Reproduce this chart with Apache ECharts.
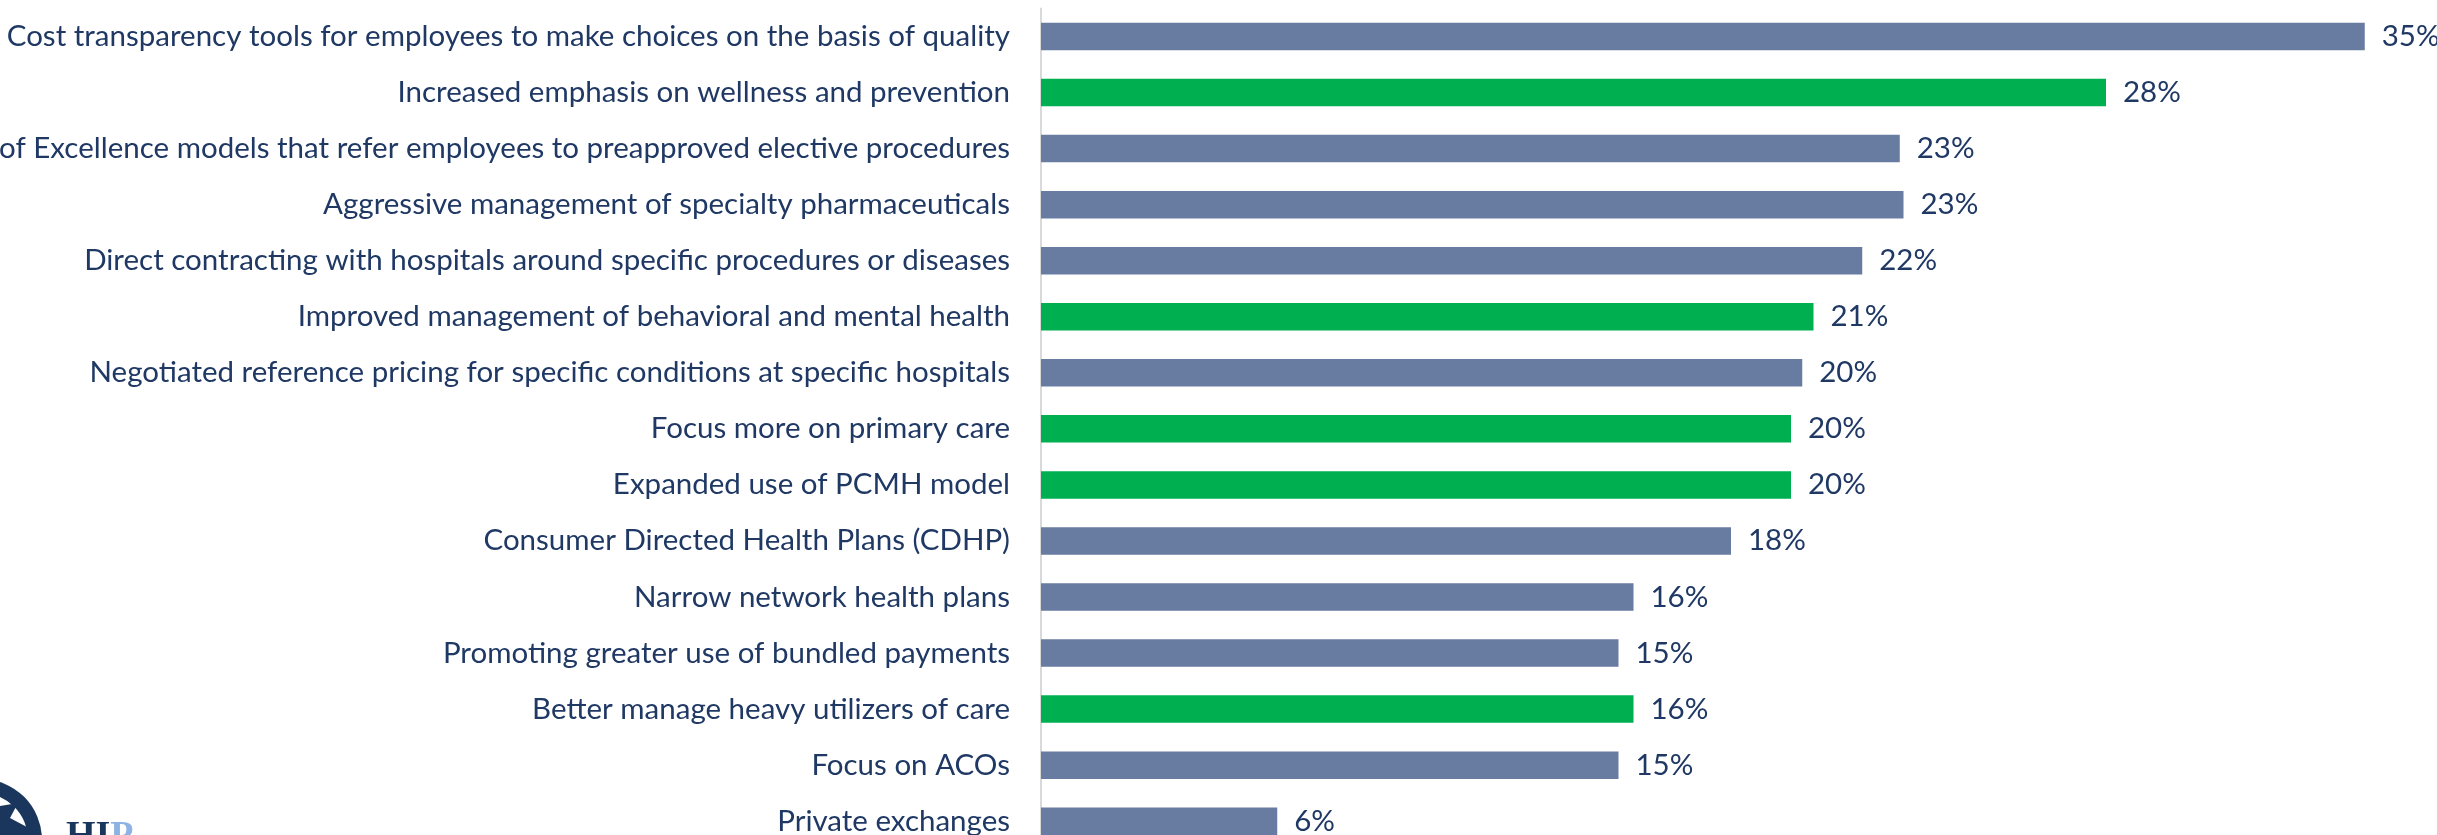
<!DOCTYPE html>
<html>
<head>
<meta charset="utf-8">
<script src="https://cdn.jsdelivr.net/npm/echarts@6/dist/echarts.min.js"></script>
<style>
  html, body { margin: 0; padding: 0; background: #fff; }
  #chart { width: 2437px; height: 835px; }
</style>
</head>
<body>
<div id="chart"></div>
<script>
// categories, top to bottom
const categories = [
  'Cost transparency tools for employees to make choices on the basis of quality',
  'Increased emphasis on wellness and prevention',
  'Centers of Excellence models that refer employees to preapproved elective procedures',
  'Aggressive management of specialty pharmaceuticals',
  'Direct contracting with hospitals around specific procedures or diseases',
  'Improved management of behavioral and mental health',
  'Negotiated reference pricing for specific conditions at specific hospitals',
  'Focus more on primary care',
  'Expanded use of PCMH model',
  'Consumer Directed Health Plans (CDHP)',
  'Narrow network health plans',
  'Promoting greater use of bundled payments',
  'Better manage heavy utilizers of care',
  'Focus on ACOs',
  'Private exchanges'
];
// bar lengths (percent)
const values = [35.3, 28.4, 22.9, 23.0, 21.9, 20.6, 20.3, 20.0, 20.0, 18.4, 15.8, 15.4, 15.8, 15.4, 6.3];
// printed labels
const valueLabels = ['35%', '28%', '23%', '23%', '22%', '21%', '20%', '20%', '20%', '18%', '16%', '15%', '16%', '15%', '6%'];
// which rows are highlighted in green
const highlighted = [false, true, false, false, false, true, false, true, true, false, false, false, true, false, false];

const BLUE = '#687BA1';
const GREEN = '#00AF50';
const TEXT = '#1F3864';
const FONT = 'Lato';

const chart = echarts.init(document.getElementById('chart'));

const option = {
  animation: false,
  grid: {
    left: 1041,
    top: 8.5,
    width: 1387.5,
    height: 840.7,
    containLabel: false,
    outerBoundsMode: 'none'
  },
  xAxis: {
    type: 'value',
    min: 0,
    max: 37,
    show: false
  },
  yAxis: {
    type: 'category',
    inverse: true,
    data: categories,
    axisLine: { lineStyle: { color: '#D9D9D9', width: 2 } },
    axisTick: { show: false },
    axisLabel: {
      margin: 31,
      fontFamily: FONT,
      fontSize: 29.5,
      color: TEXT
    }
  },
  series: [
    {
      type: 'bar',
      barWidth: 27.5,
      data: values.map((v, i) => ({
        value: v,
        itemStyle: { color: highlighted[i] ? GREEN : BLUE }
      })),
      label: {
        show: true,
        position: 'right',
        distance: 17,
        fontFamily: FONT,
        fontSize: 29.5,
        color: TEXT,
        formatter: p => valueLabels[p.dataIndex]
      }
    }
  ],
  graphic: [
    {
      type: 'ring',
      shape: { cx: -19, cy: 840, r: 61, r0: 47 },
      style: { fill: '#1B365D' }
    },
    {
      type: 'polygon',
      shape: { points: [[0, 806], [18, 803], [10, 818], [42, 835], [0, 835]] },
      style: { fill: '#1B365D' }
    },
    {
      type: 'text',
      left: 66,
      top: 818,
      style: {
        text: '{a|HI}{b|P}',
        rich: {
          a: { fontFamily: 'Liberation Serif', fontWeight: 'bold', fontSize: 38, fill: '#1B365D' },
          b: { fontFamily: 'Liberation Serif', fontWeight: 'bold', fontSize: 38, fill: '#8DB3E2' }
        }
      }
    }
  ]
};

chart.setOption(option);
</script>
</body>
</html>
